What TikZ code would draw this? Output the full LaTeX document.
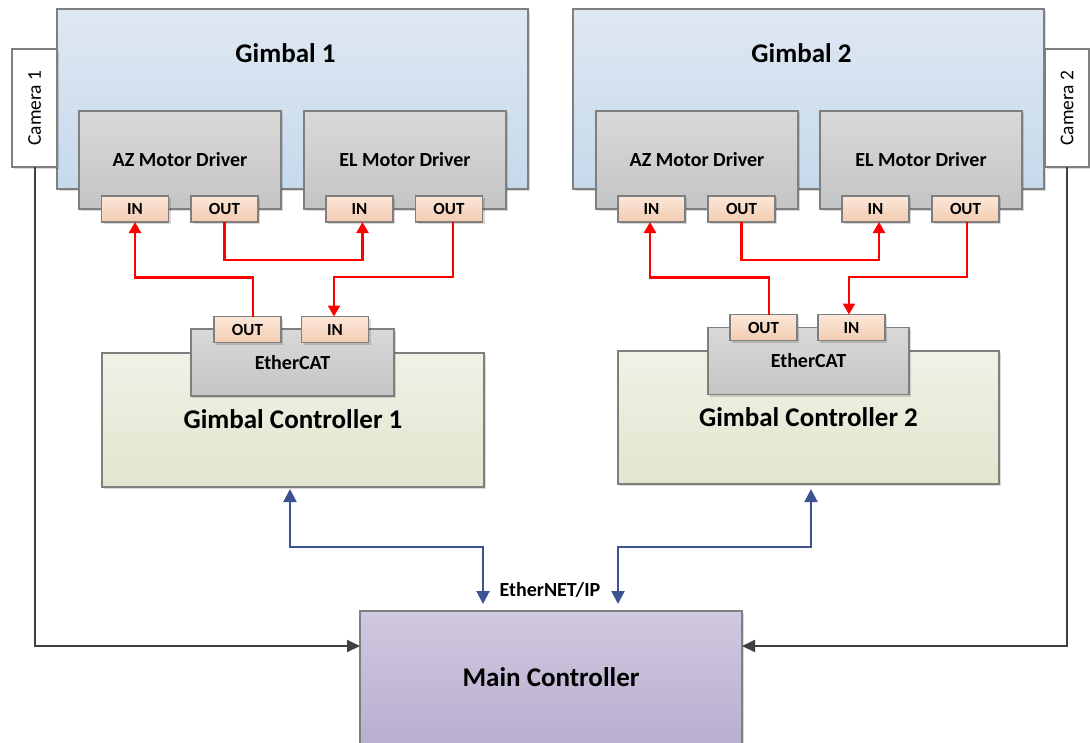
\documentclass[tikz,border=0pt]{standalone}
\usepackage{fontspec}
\setmainfont{Carlito}
\usetikzlibrary{arrows.meta,shadows,calc}

\definecolor{edgegray}{HTML}{7F7F7F}
\definecolor{gimtop}{HTML}{DFE8F2}
\definecolor{gimbot}{HTML}{C6D9EB}
\definecolor{drvtop}{HTML}{D9D9D9}
\definecolor{drvbot}{HTML}{C4C4C4}
\definecolor{porttop}{HTML}{FBE6D8}
\definecolor{portbot}{HTML}{F3CCB2}
\definecolor{gctop}{HTML}{EFF2E6}
\definecolor{gcbot}{HTML}{E0E6CF}
\definecolor{mctop}{HTML}{D0C9DF}
\definecolor{mcbot}{HTML}{B8ADD0}
\definecolor{busred}{HTML}{FF0000}
\definecolor{netblue}{HTML}{3B5390}
\definecolor{camgray}{HTML}{404040}

\newcommand\fsBig{\fontsize{27}{32}\selectfont\bfseries}
\newcommand\fsMid{\fontsize{20}{24}\selectfont\bfseries}
\newcommand\fsPort{\fontsize{17}{20}\selectfont\bfseries}
\newcommand\fsCam{\fontsize{19.5}{23}\selectfont}

\tikzset{
  box/.style={draw=edgegray, line width=1.1pt, inner sep=0pt, outer sep=0pt,
    drop shadow={shadow xshift=2pt, shadow yshift=-2pt, fill=black, opacity=0.15}},
  gimbalbox/.style={box, top color=gimtop, bottom color=gimbot},
  drvbox/.style={box, top color=drvtop, bottom color=drvbot, minimum width=202, minimum height=98},
  portbox/.style={box, top color=porttop, bottom color=portbot, minimum width=67, minimum height=26, font=\fsPort},
  gcbox/.style={box, top color=gctop, bottom color=gcbot},
  mcbox/.style={box, top color=mctop, bottom color=mcbot},
  cambox/.style={box, fill=white, minimum width=45, minimum height=118, font=\fsCam},
  ecbox/.style={box, top color=drvtop, bottom color=drvbot, minimum height=67, font=\fsMid},
  redline/.style={draw=busred, line width=2.3pt, -{Triangle[length=11pt,width=12pt]}},
  blueline/.style={draw=netblue, line width=2pt, {Triangle[length=13pt,width=13pt]}-{Triangle[length=13pt,width=13pt]}},
  grayline/.style={draw=camgray, line width=2pt, -{Triangle[length=13pt,width=12pt]}},
}

\begin{document}
\begin{tikzpicture}[x=1pt, y=-1pt]
\useasboundingbox (0,0) rectangle (1090,742);
\clip (0,0) rectangle (1090,742);

% ---------- Gimbal 1 ----------
\node[gimbalbox, minimum width=471, minimum height=180] (g1) at (292.5,99) {};
\node[font=\fsBig] (g1t) at (285.5,53) {Gimbal 1};
\node[cambox] (cam1) at (34.5,108) {\rotatebox{90}{Camera 1}};
\node[drvbox, font=\fsMid] (az1) at (180,160) {AZ Motor Driver};
\node[drvbox, font=\fsMid] (el1) at (405,160) {EL Motor Driver};
\node[portbox] (az1in)  at (135,209)   {IN};
\node[portbox] (az1out) at (224.5,209) {OUT};
\node[portbox] (el1in)  at (359.5,209) {IN};
\node[portbox] (el1out) at (449,209)   {OUT};

% ---------- Gimbal 2 ----------
\node[gimbalbox, minimum width=471, minimum height=180] (g2) at (808.5,99) {};
\node[font=\fsBig] (g2t) at (801.5,53) {Gimbal 2};
\node[cambox, minimum width=44] (cam2) at (1067,108) {\rotatebox{90}{Camera 2}};
\node[drvbox, font=\fsMid] (az2) at (697,160) {AZ Motor Driver};
\node[drvbox, font=\fsMid] (el2) at (921,160) {EL Motor Driver};
\node[portbox] (az2in)  at (651.5,209) {IN};
\node[portbox] (az2out) at (741.5,209) {OUT};
\node[portbox] (el2in)  at (875.5,209) {IN};
\node[portbox] (el2out) at (965.5,209) {OUT};

% ---------- Gimbal controllers ----------
\node[gcbox, minimum width=382, minimum height=134] (gc1) at (293,420) {};
\node[font=\fsBig] (gc1t) at (293,419) {Gimbal Controller 1};
\node[ecbox, minimum width=203] (ec1) at (292.5,362.5) {EtherCAT};
\node[portbox] (ec1out) at (247.5,329.5) {OUT};
\node[portbox] (ec1in)  at (335,329.5)   {IN};

\node[gcbox, minimum width=381, minimum height=133] (gc2) at (808.5,417.5) {};
\node[font=\fsBig] (gc2t) at (808.5,417) {Gimbal Controller 2};
\node[ecbox, minimum width=201] (ec2) at (808.5,361) {EtherCAT};
\node[portbox] (ec2out) at (763.5,327.5) {OUT};
\node[portbox] (ec2in)  at (851.5,327.5) {IN};

% ---------- Main controller ----------
\node[mcbox, minimum width=382, minimum height=139] (mc) at (551,680.5) {};
\node[font=\fsBig] (mct) at (551,677) {Main Controller};
\node[font=\fsMid] (eip) at (550,590) {EtherNET/IP};

% ---------- EtherCAT ring, gimbal 1 ----------
\draw[redline] ([xshift=5.5]ec1out.north) -- ++(0,-39) -| (az1in.south);
\draw[redline] (az1out.south) -- ++(0,38) -| ([xshift=3]el1in.south);
\draw[redline] ([xshift=4]el1out.south) -- ++(0,55) -| ([xshift=-1]ec1in.north);

% ---------- EtherCAT ring, gimbal 2 ----------
\draw[redline] ([xshift=5.5]ec2out.north) -- ++(0,-37) -| ([xshift=-1.5]az2in.south);
\draw[redline] (az2out.south) -- ++(0,38) -| ([xshift=3.5]el2in.south);
\draw[redline] ([xshift=1.5]el2out.south) -- ++(0,55) -| ([xshift=-2.5]ec2in.north);

% ---------- EtherNET/IP links ----------
\draw[blueline, shorten <=2pt, shorten >=7pt] ([xshift=-3]gc1.south) -- ++(0,60) -| ([xshift=-68]mc.north);
\draw[blueline, shorten <=5pt, shorten >=7pt] ([xshift=2.5]gc2.south) -- ++(0,63) -| ([xshift=67]mc.north);

% ---------- Camera links ----------
\coordinate (mcl) at ($(mc.north west)+(0,35)$);
\coordinate (mcr) at ($(mc.north east)+(0,35)$);
\draw[grayline] (cam1.south) |- (mcl);
\draw[grayline] (cam2.south) |- (mcr);
\end{tikzpicture}
\end{document}
